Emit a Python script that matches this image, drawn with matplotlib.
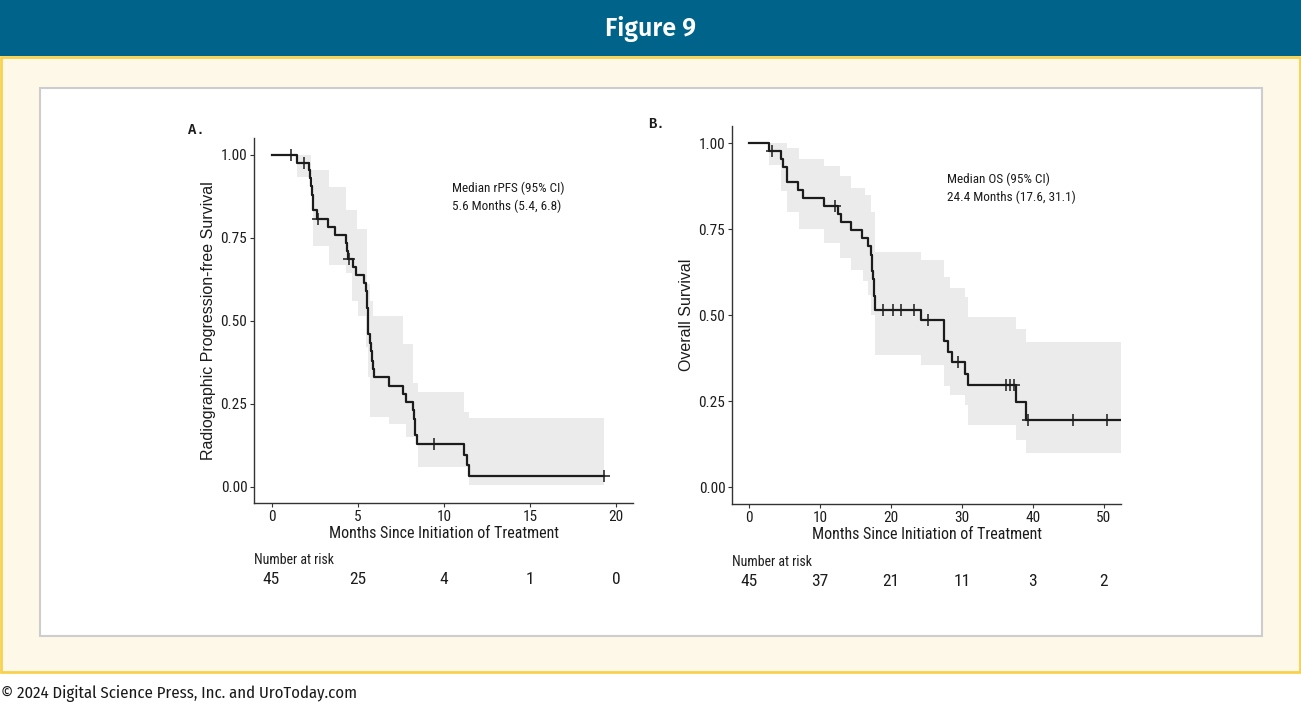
import numpy as np
import matplotlib
matplotlib.use("Agg")
import matplotlib.pyplot as plt
from matplotlib.patches import Rectangle
from matplotlib import transforms

# ---- panel A: radiographic progression-free survival ----
a_time = [0, 1.45, 2.2, 2.25, 2.3, 2.35, 2.38, 2.41, 2.64, 3.28, 3.66, 4.32, 4.38, 4.43,
          4.71, 4.9, 5.38, 5.5, 5.52, 5.55, 5.58, 5.6, 5.62, 5.73, 5.75, 5.82, 5.9, 5.93,
          6.79, 7.66, 7.81, 8.24, 8.28, 8.3, 8.35, 8.45, 11.17, 11.32, 11.48, 19.3]
a_surv = [1.0, 0.977, 0.955, 0.93, 0.905, 0.88, 0.857, 0.833, 0.808, 0.784, 0.760, 0.735, 0.71, 0.686,
          0.663, 0.639, 0.614, 0.59, 0.565, 0.54, 0.515, 0.49, 0.46, 0.434, 0.41, 0.38, 0.355, 0.33,
          0.304, 0.28, 0.255, 0.23, 0.205, 0.18, 0.155, 0.13, 0.097, 0.065, 0.032, 0.032]
a_cens = [1.14, 1.87, 2.7, 4.47, 9.45, 19.3]
a_ci_t = [1.45, 2.3, 2.41, 3.32, 4.34, 4.67, 4.96, 5.0, 5.5, 5.54, 5.62, 5.73, 5.9, 6.79,
          7.66, 7.81, 8.24, 8.5, 11.17, 11.48, 19.3]
a_ci_hi = [1.0, 0.954, 0.954, 0.902, 0.835, 0.835, 0.776, 0.776, 0.776, 0.61, 0.61, 0.56, 0.515, 0.515,
           0.43, 0.43, 0.314, 0.286, 0.224, 0.207, 0.207]
a_ci_lo = [0.934, 0.934, 0.726, 0.669, 0.645, 0.56, 0.56, 0.515, 0.42, 0.42, 0.33, 0.21, 0.21, 0.19,
           0.19, 0.149, 0.149, 0.058, 0.058, 0.006, 0.006]
a_risk_t = [0, 5, 10, 15, 20]
a_risk_n = [45, 25, 4, 1, 0]

# ---- panel B: overall survival ----
b_time = [0, 2.78, 4.47, 4.8, 5.27, 6.92, 7.53, 10.55, 12.48, 12.95, 14.31, 15.9, 16.8, 17.18,
          17.25, 17.35, 17.42, 17.55, 17.65, 17.75, 24.25, 27.4, 28.0, 28.6, 30.45, 30.9, 37.6,
          39.0, 52.4]
b_surv = [1.0, 0.978, 0.955, 0.93, 0.886, 0.864, 0.84, 0.818, 0.795, 0.771, 0.748, 0.724, 0.70, 0.676,
          0.652, 0.628, 0.604, 0.58, 0.556, 0.516, 0.487, 0.426, 0.394, 0.363, 0.33, 0.297, 0.248,
          0.196, 0.196]
b_cens = [3.2, 12.1, 18.8, 20.3, 21.4, 23.2, 25.2, 29.4, 36.2, 36.8, 37.4, 39.3, 45.7, 50.4]
b_ci_t = [2.78, 4.5, 5.27, 7.0, 10.5, 12.8, 14.3, 16.0, 16.3, 16.8, 17.2, 17.75, 24.25, 27.4,
          28.35, 30.45, 30.9, 37.6, 39.0, 52.4]
b_ci_hi = [1.0, 1.0, 0.985, 0.955, 0.935, 0.905, 0.869, 0.869, 0.85, 0.85, 0.80, 0.683, 0.659, 0.612,
           0.578, 0.554, 0.494, 0.459, 0.421, 0.421]
b_ci_lo = [0.937, 0.86, 0.80, 0.75, 0.709, 0.665, 0.632, 0.60, 0.60, 0.56, 0.50, 0.385, 0.356, 0.294,
           0.268, 0.24, 0.181, 0.138, 0.099, 0.099]
b_risk_t = [0, 10, 20, 30, 40, 50]
b_risk_n = [45, 37, 21, 11, 3, 2]

W, H = 1301, 706
NARROW = ['Roboto Condensed', 'DejaVu Sans']
plt.rcParams['font.family'] = NARROW
INK = '#1c1c1c'


def fx(x):
    return x / W


def fy(y):
    return 1 - y / H


fig = plt.figure(figsize=(W / 100, H / 100), dpi=100)

# page decoration
fig.patches.append(Rectangle((0, fy(56)), 1, 56 / H, transform=fig.transFigure,
                             facecolor='#00648a', edgecolor='none', zorder=-5))
fig.patches.append(Rectangle((fx(1), fy(672)), fx(1299), (672 - 57) / H, transform=fig.transFigure,
                             facecolor='#fef8e9', edgecolor='#f8d24e', lw=2, zorder=-5))
fig.patches.append(Rectangle((fx(40), fy(636)), fx(1262 - 40), (636 - 88) / H, transform=fig.transFigure,
                             facecolor='white', edgecolor='#cdcdcd', lw=1.5, zorder=-4))
fig.text(0.5, fy(29), 'Figure 9', color='white', fontsize=18, fontweight='semibold',
         family='Fira Sans', ha='center', va='center')
fig.text(fx(1), fy(694), '\u00a9 2024 Digital Science Press, Inc. and UroToday.com',
         fontsize=12, color='#1a1a1a', family='Fira Sans Condensed', ha='left', va='center')


def km_panel(ax, t, s, cens, ci_t, ci_hi, ci_lo, xlim, xticks, ylabel):
    ax.fill_between(ci_t, ci_lo, ci_hi, step='post', color='#ebebeb', lw=0)
    ax.step(t, s, where='post', color=INK, lw=1.6)
    idx = np.searchsorted(t, cens, side='right') - 1
    ax.plot(cens, np.array(s)[idx], ls='none', marker='+', ms=8, mew=1.1, color=INK)
    ax.set_xlim(*xlim)
    ax.set_ylim(-0.05, 1.05)
    ax.set_xticks(xticks)
    ax.set_yticks([0, 0.25, 0.5, 0.75, 1.0])
    ax.yaxis.set_major_formatter(matplotlib.ticker.FormatStrFormatter('%.2f'))
    ax.spines[['top', 'right']].set_visible(False)
    for sp in ('left', 'bottom'):
        ax.spines[sp].set_color('#333333')
        ax.spines[sp].set_linewidth(1.0)
    ax.tick_params(direction='out', length=3, width=0.8, color='#333333',
                   labelcolor=INK, labelsize=11, pad=2)
    ax.set_xlabel('Months Since Initiation of Treatment', fontsize=11.5, color=INK, labelpad=1)
    ax.set_ylabel(ylabel, fontsize=11.5, color=INK, family='Liberation Sans', labelpad=3)
    ax.set_facecolor('white')


axA = fig.add_axes([fx(254.3), fy(503.3), fx(633.3 - 254.3), 365 / H])
km_panel(axA, a_time, a_surv, a_cens, a_ci_t, a_ci_hi, a_ci_lo, (-1, 21), [0, 5, 10, 15, 20],
         'Radiographic Progression-free Survival')

axB = fig.add_axes([fx(732.3), fy(504.3), fx(1120.7 - 732.3), 378.3 / H])
km_panel(axB, b_time, b_surv, b_cens, b_ci_t, b_ci_hi, b_ci_lo, (-2.4, 52.4), [0, 10, 20, 30, 40, 50],
         'Overall Survival')

# panel letters and median annotations
fig.text(fx(188), fy(130), 'A.', family='Liberation Mono', fontweight='bold', fontsize=10,
         ha='left', va='center', color=INK)
fig.text(fx(648), fy(124), 'B.', family='Liberation Mono', fontweight='bold', fontsize=10,
         ha='left', va='center', color=INK)
fig.text(fx(452), fy(188), 'Median rPFS (95% CI)', fontsize=9.5, ha='left', va='center', color=INK)
fig.text(fx(452), fy(206), '5.6 Months (5.4, 6.8)', fontsize=9.5, ha='left', va='center', color=INK)
fig.text(fx(947), fy(179), 'Median OS (95% CI)', fontsize=9.5, ha='left', va='center', color=INK)
fig.text(fx(947), fy(197), '24.4 Months (17.6, 31.1)', fontsize=9.5, ha='left', va='center', color=INK)

# number at risk tables
for ax, rt, rn, x0, yh, yn in ((axA, a_risk_t, a_risk_n, 254, 560, 580),
                               (axB, b_risk_t, b_risk_n, 732, 562.5, 582)):
    fig.text(fx(x0), fy(yh), 'Number at risk', fontsize=10, ha='left', va='center', color=INK)
    tr = transforms.blended_transform_factory(ax.transData, fig.transFigure)
    for t, n in zip(rt, rn):
        ax.text(t, fy(yn), str(n), transform=tr, fontsize=12.5, ha='center', va='center', color=INK)

fig.savefig('out.png', dpi=100)
